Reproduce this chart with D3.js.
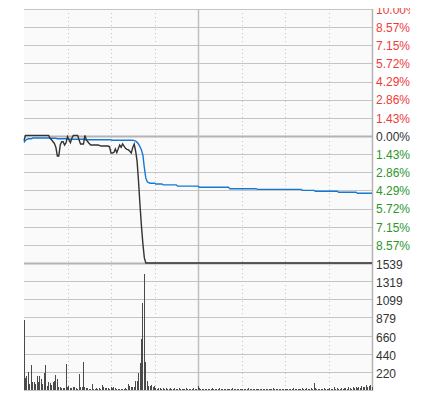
<!DOCTYPE html>
<html><head><meta charset="utf-8">
<script src="https://cdn.jsdelivr.net/npm/d3@7/dist/d3.min.js"></script>
<style>html,body{margin:0;padding:0;background:#fff;}svg{display:block;}</style>
</head><body>
<svg id="c" width="431" height="397"></svg>
<script>
// ---- data ----
// percent change from previous close, one point per trading minute (241)
const pricePct = [
-0.37,0.05,0.05,0.05,0.05,0.05,0.05,0.05,0.05,0.05,0.05,0.05,0.05,0.05,0.05,0.05,0.05,0.05,
-0.18,-0.3,-0.45,-0.6,-0.9,-1.57,-1.57,-0.71,-0.45,-0.45,-0.71,-0.53,-0.05,-0.3,-0.53,-0.18,
0.05,0.05,0.05,0.05,-0.31,-0.63,-0.63,-0.63,0.05,-0.3,-0.45,-0.6,
-0.71,-0.71,-0.71,-0.71,-0.71,-0.71,-0.74,-0.79,-0.79,-0.79,-0.79,-0.79,-0.79,-0.85,
-1.34,-1.34,-1.3,-1.02,-1.31,-1.0,-0.71,-0.89,-0.63,-0.8,-0.97,-1.05,-1.1,-1.2,-1.34,-0.9,
-0.63,-1.2,-2.0,-3.6,-5.43,-7.1,-8.5,-9.6,
-10,-10,-10,-10,-10,-10,-10,-10,-10,-10,-10,-10,-10,-10,-10,-10,-10,-10,-10,-10,
-10,-10,-10,-10,-10,-10,-10,-10,-10,-10,-10,-10,-10,-10,-10,-10,-10,-10,-10,-10,
-10,-10,-10,-10,-10,-10,-10,-10,-10,-10,-10,-10,-10,-10,-10,-10,-10,-10,-10,-10,
-10,-10,-10,-10,-10,-10,-10,-10,-10,-10,-10,-10,-10,-10,-10,-10,-10,-10,-10,-10,
-10,-10,-10,-10,-10,-10,-10,-10,-10,-10,-10,-10,-10,-10,-10,-10,-10,-10,-10,-10,
-10,-10,-10,-10,-10,-10,-10,-10,-10,-10,-10,-10,-10,-10,-10,-10,-10,-10,-10,-10,
-10,-10,-10,-10,-10,-10,-10,-10,-10,-10,-10,-10,-10,-10,-10,-10,-10,-10,-10,-10,
-10,-10,-10,-10,-10,-10,-10,-10,-10,-10,-10,-10,-10,-10,-10,-10,-10
];
const avgPct = [
-0.53,-0.35,-0.26,-0.22,-0.22,-0.22,
-0.16,-0.16,-0.16,-0.16,-0.16,-0.16,-0.16,-0.16,-0.16,-0.16,-0.16,-0.16,
-0.18,-0.18,-0.18,-0.18,-0.18,
-0.22,-0.22,-0.22,-0.22,-0.22,-0.22,-0.22,-0.22,
-0.26,-0.26,-0.26,-0.26,-0.26,-0.26,-0.26,-0.26,-0.26,-0.26,-0.26,
-0.3,-0.3,-0.3,-0.3,-0.3,-0.3,-0.3,-0.3,-0.3,-0.3,-0.3,-0.3,-0.3,-0.3,-0.3,-0.3,-0.3,-0.3,-0.3,
-0.33,-0.33,-0.33,-0.33,-0.33,-0.33,-0.33,-0.33,-0.33,-0.33,-0.33,-0.33,-0.33,-0.33,-0.33,
-0.36,-0.4,-0.5,-0.65,-0.85,-1.1,-1.5,-2.5,-3.3,-3.6,-3.68,
-3.72,-3.72,-3.72,-3.72,
-3.78,-3.78,-3.78,-3.78,-3.78,
-3.85,-3.85,-3.85,-3.85,-3.85,-3.85,-3.85,-3.85,-3.85,-3.85,
-3.95,-3.95,-3.95,-3.95,-3.95,-3.95,-3.95,-3.95,-3.95,-3.95,-3.95,-3.95,-3.95,-3.95,-3.95,
-4.04,-4.04,-4.04,-4.04,-4.04,-4.04,-4.04,-4.04,-4.04,-4.04,-4.04,-4.04,-4.04,-4.04,-4.04,-4.04,-4.04,-4.04,-4.04,-4.04,-4.04,
-4.15,-4.15,-4.15,-4.15,-4.15,-4.15,-4.15,-4.15,-4.15,-4.15,-4.15,-4.15,-4.15,-4.15,-4.15,-4.15,-4.15,-4.15,-4.15,
-4.2,-4.2,-4.2,-4.2,-4.2,-4.2,-4.2,-4.2,-4.2,-4.2,-4.2,-4.2,-4.2,-4.2,-4.2,-4.2,-4.2,-4.2,-4.2,-4.2,-4.2,-4.2,-4.2,-4.2,-4.2,-4.2,-4.2,-4.2,-4.2,-4.2,-4.2,
-4.28,-4.28,-4.28,-4.28,-4.28,-4.28,-4.28,-4.28,-4.28,
-4.35,-4.35,-4.35,-4.35,-4.35,-4.35,-4.35,-4.35,-4.35,-4.35,-4.35,-4.35,-4.35,-4.35,-4.35,-4.35,
-4.43,-4.43,-4.43,-4.43,-4.43,-4.43,-4.43,-4.43,-4.43,-4.43,-4.43,-4.43,-4.43,
-4.51,-4.51,-4.51,-4.51,-4.51,-4.51,-4.51,-4.51,-4.51,-4.51,-4.51
];
const volume = [
848,149,170,215,69,303,97,97,69,170,97,170,133,69,206,303,48,97,81,57,
97,109,178,133,40,40,30,30,20,315,40,48,20,28,40,40,28,10,194,40,
32,340,32,20,20,12,12,73,12,16,20,12,20,16,61,32,28,20,20,12,
36,20,40,20,16,16,16,16,16,16,28,16,73,48,40,40,36,109,109,210,
331,618,1050,1406,340,109,48,48,61,40,48,
24,16,28,20,12,24,16,20,12,16,
20,12,16,24,12,16,20,12,16,12,
16,20,12,8,16,12,20,16,12,48,
20,12,16,8,12,16,12,8,16,20,
12,8,16,12,20,12,8,12,16,12,
8,12,16,20,12,8,12,16,12,8,
12,16,8,12,20,12,8,16,12,8,
12,8,16,12,8,12,16,8,12,16,
12,20,8,12,16,8,12,16,12,8,
16,12,8,12,16,20,12,8,12,16,
12,24,16,12,20,16,12,24,16,88,
20,12,16,12,8,16,20,12,16,12,
20,12,16,32,12,20,16,12,24,16,
28,20,12,36,24,16,32,20,40,24,
36,28,48,32,40,56,36,44,60,32
];
const pctTicks = [10, 8.57, 7.15, 5.72, 4.29, 2.86, 1.43, 0, -1.43, -2.86, -4.29, -5.72, -7.15, -8.57];
const pctTickLabels = ["10.00%","8.57%","7.15%","5.72%","4.29%","2.86%","1.43%","0.00%","1.43%","2.86%","4.29%","5.72%","7.15%","8.57%"];
const volTicks = [1539, 1319, 1099, 879, 660, 440, 220];
const volTickLabels = ["1539","1319","1099","879","660","440","220"];
const timeGrid = [30, 60, 90, 120, 150, 180, 210];

// ---- drawing ----
const L = 24, R = 372, T = 9, M = 263, B = 390;
const svg = d3.select("#c");
const x = d3.scaleLinear().domain([0, 240]).range([L, R]);
const yP = d3.scaleLinear().domain([-10, 10]).range([M, T]);
const yV = d3.scaleLinear().domain([0, 1539]).range([B, M]);
const crisp = v => Math.round(v) + 0.5;

svg.append("rect").attr("x", L).attr("y", T).attr("width", R - L).attr("height", B - T).attr("fill", "#fafafa");

// horizontal grid
svg.append("g").selectAll("line").data(pctTicks).join("line")
  .attr("x1", L).attr("x2", R)
  .attr("y1", d => crisp(yP(d))).attr("y2", d => crisp(yP(d)))
  .attr("stroke", d => d === 0 ? "#b4b4b4" : "#c4c4c4")
  .attr("stroke-width", d => d === 0 ? 2 : 1);
svg.append("g").selectAll("line").data(volTicks.slice(1)).join("line")
  .attr("x1", L).attr("x2", R)
  .attr("y1", d => crisp(yV(d))).attr("y2", d => crisp(yV(d)))
  .attr("stroke", "#c4c4c4").attr("stroke-width", 1);
// panel divider and bottom
svg.append("line").attr("x1", L).attr("x2", R).attr("y1", M + 0.5).attr("y2", M + 0.5)
  .attr("stroke", "#b4b4b4").attr("stroke-width", 2);
svg.append("line").attr("x1", L).attr("x2", R).attr("y1", crisp(yV(0))).attr("y2", crisp(yV(0)))
  .attr("stroke", "#c4c4c4").attr("stroke-width", 1);

// vertical grid
svg.append("g").selectAll("line").data(timeGrid).join("line")
  .attr("x1", d => crisp(x(d))).attr("x2", d => crisp(x(d)))
  .attr("y1", T).attr("y2", B)
  .attr("stroke", d => d === 120 ? "#c0c0c0" : "#c4c4c4")
  .attr("stroke-width", d => d === 120 ? 1.5 : 1)
  .attr("stroke-dasharray", d => d === 120 ? null : "1,3");

// right border
svg.append("line").attr("x1", R + 0.5).attr("x2", R + 0.5).attr("y1", T).attr("y2", B + 1)
  .attr("stroke", "#b4b4b4").attr("stroke-width", 1.5);

// volume bars
svg.append("g").attr("shape-rendering", "crispEdges").selectAll("rect").data(volume).join("rect")
  .attr("x", (d, i) => Math.floor(x(i)))
  .attr("width", 1)
  .attr("y", d => yV(d))
  .attr("height", d => yV(0) - yV(d))
  .attr("fill", "#4a4a4a");

// lines
const line = d3.line().x((d, i) => x(i)).y(d => yP(d));
svg.append("path").datum(avgPct).attr("d", line)
  .attr("fill", "none").attr("stroke", "#1479d4").attr("stroke-width", 1.4);
svg.append("path").datum(pricePct).attr("d", line)
  .attr("fill", "none").attr("stroke", "#333").attr("stroke-width", 1.4);

// labels
svg.append("defs").append("clipPath").attr("id", "lab")
  .append("rect").attr("x", R).attr("y", 8).attr("width", 410 - R).attr("height", 400);
const lab = svg.append("g").attr("clip-path", "url(#lab)")
  .style("font-family", "'Liberation Sans', Arial, sans-serif").style("font-size", "12px");
lab.selectAll("text.p").data(pctTicks).join("text").attr("class", "p")
  .attr("x", 376).attr("y", d => yP(d) + 0.8)
  .attr("dominant-baseline", "central")
  .attr("fill", d => d > 0 ? "#ee3b3b" : d < 0 ? "#2c962c" : "#333")
  .text((d, i) => pctTickLabels[i]);
lab.selectAll("text.v").data(volTicks).join("text").attr("class", "v")
  .attr("x", 376).attr("y", d => yV(d) + 2)
  .attr("dominant-baseline", "central")
  .attr("fill", "#333")
  .text((d, i) => volTickLabels[i]);
</script>
</body></html>
